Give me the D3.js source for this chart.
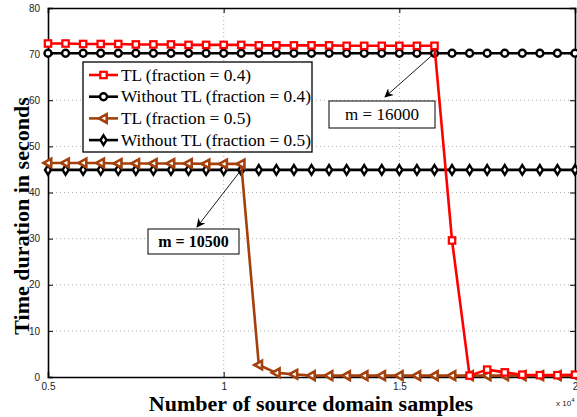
<!DOCTYPE html>
<html><head><meta charset="utf-8">
<script src="https://cdn.jsdelivr.net/npm/d3@7"></script>
<style>body{margin:0;background:#fff;} svg{display:block;}</style>
</head><body>
<svg id="c" width="577" height="417"></svg>
<script>
const samples = d3.range(5000, 20001, 500);
const tl04 = [72.3,72.3,72.2,72.2,72.2,72.1,72.1,72.1,72.0,72.0,72.0,72.0,71.9,71.9,71.9,71.9,71.9,71.8,71.8,71.8,71.8,71.8,71.8,29.6,0.3,1.6,1.0,0.5,0.4,0.4,0.5];
const noTl04 = samples.map(() => 70.2);
const tl05 = [46.4,46.4,46.4,46.4,46.3,46.3,46.3,46.3,46.3,46.2,46.2,46.2,2.6,0.9,0.6,0.3,0.3,0.3,0.3,0.3,0.3,0.3,0.3,0.3,0.3,0.3,0.3,0.3,0.3,0.3,0.3];
const noTl05 = samples.map(() => 44.9);
const xTicks = [5000, 10000, 15000, 20000];
const yTicks = [0,10,20,30,40,50,60,70,80];
const seriesNames = ["TL (fraction = 0.4)","Without TL (fraction = 0.4)","TL (fraction = 0.5)","Without TL (fraction = 0.5)"];
const annotations = [{x:16000, y:70.2, label:"m = 16000", bold:false},{x:10500, y:44.9, label:"m = 10500", bold:true}];

const svg = d3.select("#c");
const L=48, R=575, T=8, B=377;
const x = d3.scaleLinear().domain([5000,20000]).range([L,R]);
const y = d3.scaleLinear().domain([0,80]).range([B,T]);

// grid
const g = svg.append("g");
g.selectAll(".gx").data(xTicks.slice(1,-1)).join("line")
  .attr("x1",d=>x(d)).attr("x2",d=>x(d)).attr("y1",T).attr("y2",B)
  .attr("stroke","#b0b0b0").attr("stroke-width",1).attr("stroke-dasharray","1,3");
g.selectAll(".gy").data(yTicks.slice(1,-1)).join("line")
  .attr("x1",L).attr("x2",R).attr("y1",d=>y(d)).attr("y2",d=>y(d))
  .attr("stroke","#b0b0b0").attr("stroke-width",1).attr("stroke-dasharray","1,3");

// axes
const fmt = d => d3.format("~g")(d/10000);
const axB = svg.append("g").attr("transform",`translate(0,${B})`).call(d3.axisBottom(x).tickValues(xTicks).tickFormat(fmt).tickSize(-5).tickPadding(8));
const axT = svg.append("g").attr("transform",`translate(0,${T})`).call(d3.axisTop(x).tickValues(xTicks).tickFormat("").tickSize(-5));
const axL = svg.append("g").attr("transform",`translate(${L},0)`).call(d3.axisLeft(y).tickValues(yTicks).tickSize(-5).tickPadding(8));
const axR = svg.append("g").attr("transform",`translate(${R},0)`).call(d3.axisRight(y).tickValues(yTicks).tickFormat("").tickSize(-5));
[axB,axT,axL,axR].forEach(a=>{
  a.select(".domain").attr("stroke","#000").attr("stroke-width",1.6);
  a.selectAll(".tick line").attr("stroke","#000");
  a.selectAll("text").attr("font-family","Liberation Sans, Arial, sans-serif").attr("font-size",10).attr("fill","#222");
});
axL.selectAll("text").attr("dy","0.32em");
axB.selectAll("text").attr("dy","0.5em");

const line = d3.line().x((d,i)=>x(samples[i])).y(d=>y(d));
const red="#ff0000", brown="#a3400c";
function drawSeries(data,color,marker){
  svg.append("path").datum(data).attr("d",line).attr("fill","none").attr("stroke",color).attr("stroke-width",2.6).attr("stroke-linejoin","round");
  const gg = svg.append("g");
  data.forEach((d,i)=>drawMarker(gg,x(samples[i]),y(d),color,marker));
}
function drawMarker(gg,cx,cy,color,marker){
  if(marker==="square"){
    gg.append("rect").attr("x",cx-3.2).attr("y",cy-3.2).attr("width",6.4).attr("height",6.4).attr("fill","#fff").attr("stroke",color).attr("stroke-width",2.2);
  } else if(marker==="circle"){
    gg.append("circle").attr("cx",cx).attr("cy",cy).attr("r",3.5).attr("fill","#fff").attr("stroke",color).attr("stroke-width",2.4);
  } else if(marker==="tri"){
    gg.append("path").attr("d",`M${cx-4.5},${cy} L${cx+3.2},${cy-4.3} L${cx+3.2},${cy+4.3} Z`).attr("fill","#fff").attr("stroke",color).attr("stroke-width",2.6).attr("stroke-linejoin","miter");
  } else if(marker==="diamond"){
    gg.append("path").attr("d",`M${cx},${cy-4.8} L${cx+3},${cy} L${cx},${cy+4.8} L${cx-3},${cy} Z`).attr("fill","#fff").attr("stroke",color).attr("stroke-width",2.4);
  }
}
drawSeries(noTl04,"#000","circle");
drawSeries(noTl05,"#000","diamond");
drawSeries(tl05,brown,"tri");
drawSeries(tl04,red,"square");

// legend
const lg = svg.append("g");
lg.append("rect").attr("x",83).attr("y",62).attr("width",229).attr("height",90).attr("fill","#fff").attr("stroke","#000").attr("stroke-width",1.3);
const specs=[[red,"square"],["#000","circle"],[brown,"tri"],["#000","diamond"]];
seriesNames.forEach((n,i)=>{
  const yy = 75 + i*21.7;
  lg.append("line").attr("x1",89).attr("x2",118).attr("y1",yy).attr("y2",yy).attr("stroke",specs[i][0]).attr("stroke-width",2.6);
  drawMarker(lg,103.5,yy,specs[i][0],specs[i][1]);
  lg.append("text").attr("x",121).attr("y",yy).attr("dy","0.33em").attr("font-family","Liberation Serif, Times New Roman, serif").attr("font-size",17.3).attr("fill","#000").text(n);
});

// annotations
const defs = svg.append("defs");
defs.append("marker").attr("id","ah").attr("viewBox","0 0 10 10").attr("refX",9).attr("refY",5).attr("markerWidth",9).attr("markerHeight",9).attr("orient","auto").attr("markerUnits","userSpaceOnUse")
  .append("path").attr("d","M0,0 L10,5 L0,10 L3,5 Z").attr("fill","#000");
const boxes=[{bx:329,by:101,bw:106,bh:27,tx:385,ty:97},{bx:148,by:229,bw:91,bh:25,tx:197,ty:227}];
annotations.forEach((a,i)=>{
  const b=boxes[i];
  svg.append("line").attr("x1",x(a.x)).attr("y1",y(a.y)).attr("x2",b.tx).attr("y2",b.ty).attr("stroke","#000").attr("stroke-width",0.9).attr("marker-end","url(#ah)");
  svg.append("rect").attr("x",b.bx).attr("y",b.by).attr("width",b.bw).attr("height",b.bh).attr("fill","#fff").attr("stroke","#000").attr("stroke-width",1);
  svg.append("text").attr("x",b.bx+b.bw/2).attr("y",b.by+b.bh/2).attr("dy","0.35em").attr("text-anchor","middle")
    .attr("font-family","Liberation Serif, Times New Roman, serif").attr("font-size",a.bold?16:17).attr("font-weight",a.bold?"bold":"normal").text(a.label);
});

// axis labels
svg.append("text").attr("x",311).attr("y",411).attr("text-anchor","middle").attr("font-family","Liberation Serif, Times New Roman, serif").attr("font-weight","bold").attr("font-size",22).text("Number of source domain samples");
svg.append("text").attr("transform","translate(29,216) rotate(-90)").attr("text-anchor","middle").attr("font-family","Liberation Serif, Times New Roman, serif").attr("font-weight","bold").attr("font-size",22).text("Time duration in seconds");
const ex = svg.append("text").attr("x",556).attr("y",406).attr("font-family","Liberation Sans, Arial, sans-serif").attr("font-size",8).attr("fill","#222");
ex.append("tspan").text("x 10");
ex.append("tspan").attr("dy",-4).attr("font-size",6).text("4");
</script>
</body></html>
